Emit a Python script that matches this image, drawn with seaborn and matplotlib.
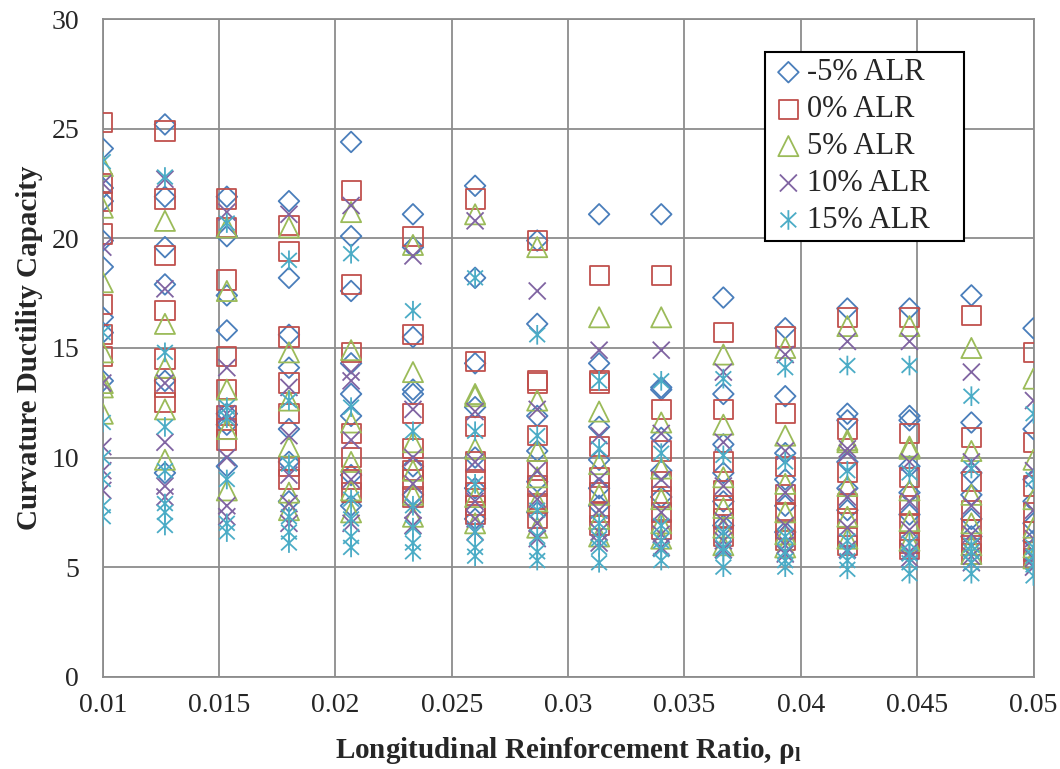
import matplotlib
matplotlib.use("Agg")
import matplotlib.pyplot as plt
import seaborn as sns
import pandas as pd
import numpy as np
from matplotlib.path import Path

# Longitudinal reinforcement ratio columns
rho = [0.01, 0.01267, 0.01533, 0.018, 0.02067, 0.02333, 0.026, 0.02867,
       0.03133, 0.034, 0.03667, 0.03933, 0.042, 0.04467, 0.04733, 0.05]

# Curvature ductility per column, one list per ALR level
alr_m5 = [
    [24.1, 22.3, 21.7, 19.9, 18.7, 16.4, 15.7, 13.5],
    [25.2, 21.9, 19.6, 17.9, 13.5, 9.3],
    [21.9, 20.1, 17.4, 15.8, 12.0, 11.5, 9.6],
    [21.7, 18.2, 15.6, 14.1, 11.3, 9.8, 8.0],
    [24.4, 20.1, 17.6, 14.3, 12.9, 11.9, 9.2, 7.8],
    [21.1, 19.6, 15.5, 13.1, 12.9, 9.6, 8.3],
    [22.4, 18.2, 14.3, 12.3, 10.0, 8.6, 7.2],
    [19.9, 16.1, 11.9, 10.3, 8.9, 7.5],
    [21.1, 14.3, 11.4, 9.9, 8.6, 7.8],
    [21.1, 13.2, 13.1, 10.9, 9.4, 8.2],
    [17.3, 12.9, 10.6, 9.3, 8.0, 6.9],
    [15.9, 12.8, 10.2, 9.0, 7.8, 6.6],
    [16.8, 12.0, 11.7, 9.8, 8.6, 7.6],
    [16.8, 11.9, 11.7, 9.6, 8.4, 7.4],
    [17.4, 11.6, 9.3, 8.3, 7.2, 6.4],
    [15.9, 11.3, 9.0, 8.0, 7.0, 6.2],
]
alr_0 = [
    [25.3, 22.5, 21.7, 20.2, 17.0, 15.6, 14.6],
    [24.9, 21.8, 19.2, 16.7, 14.5, 13.2, 12.5],
    [21.8, 20.5, 18.1, 14.6, 13.1, 11.9, 11.3, 10.8],
    [20.6, 19.4, 15.5, 13.4, 12.0, 9.6, 9.0],
    [22.2, 17.9, 14.8, 11.1, 10.0, 9.0, 8.4],
    [20.1, 15.6, 12.0, 10.4, 9.4, 9.0, 8.2],
    [21.8, 14.4, 11.4, 9.8, 9.0, 8.4, 7.8, 7.4],
    [19.9, 13.5, 13.4, 11.0, 9.4, 8.7, 7.9, 7.2],
    [18.3, 13.5, 13.4, 10.5, 9.1, 8.4, 7.5, 6.9],
    [18.3, 12.2, 10.3, 8.9, 8.2, 7.5, 6.7],
    [15.7, 12.2, 9.8, 8.5, 7.8, 7.2, 6.4],
    [15.5, 12.0, 9.6, 8.3, 7.5, 6.7, 6.2],
    [16.4, 11.3, 9.3, 7.9, 7.2, 6.4, 6.0],
    [16.4, 11.1, 9.1, 7.8, 7.0, 6.1, 5.8],
    [16.5, 10.9, 8.9, 7.6, 6.7, 6.0, 5.6],
    [14.8, 10.7, 8.7, 7.5, 6.6, 5.7, 5.4],
]
alr_5 = [
    [23.3, 21.4, 18.0, 14.8, 13.4, 13.2, 12.0],
    [20.8, 16.1, 14.1, 12.2, 9.9],
    [20.5, 17.6, 13.1, 11.3, 8.5],
    [20.5, 14.8, 12.6, 10.5, 8.4, 7.6],
    [21.2, 14.9, 11.6, 9.8, 8.5, 7.5],
    [19.7, 13.9, 10.7, 9.4, 8.3, 7.3],
    [21.1, 12.9, 12.8, 10.4, 8.2, 7.0],
    [19.6, 12.6, 10.3, 9.1, 8.0, 6.8],
    [16.4, 12.1, 9.7, 8.3, 7.2, 6.4],
    [16.4, 11.6, 9.5, 8.1, 7.0, 6.3],
    [14.7, 11.5, 9.1, 7.7, 6.8, 6.0],
    [15.0, 11.0, 8.8, 7.5, 6.5, 5.9],
    [16.0, 10.8, 10.7, 8.7, 7.3, 6.3],
    [16.0, 10.5, 10.4, 8.5, 7.1, 6.2],
    [15.0, 10.3, 8.3, 7.0, 6.0, 5.6],
    [13.6, 9.9, 8.1, 6.8, 5.9, 5.4],
]
alr_10 = [
    [22.5, 19.6, 13.4, 10.5, 9.4, 8.5],
    [22.7, 17.7, 13.4, 10.7, 8.7, 8.2],
    [21.2, 14.1, 12.0, 10.0, 7.8, 7.3],
    [21.1, 13.2, 11.0, 9.2, 7.9, 7.0],
    [21.5, 13.9, 13.5, 10.8, 9.0, 7.0],
    [19.2, 12.2, 10.0, 8.8, 7.6, 6.9],
    [20.8, 12.1, 9.8, 8.0, 7.2, 6.6],
    [17.6, 12.2, 9.4, 8.1, 7.0, 6.3],
    [14.9, 11.0, 9.0, 7.6, 6.6, 6.1],
    [14.9, 11.1, 9.0, 7.5, 6.5, 5.9],
    [13.9, 10.7, 8.7, 7.1, 6.2, 5.8],
    [14.7, 10.3, 8.4, 6.9, 6.0, 5.6],
    [15.3, 10.4, 10.2, 8.2, 6.8, 5.8],
    [15.3, 9.8, 8.0, 6.7, 5.7, 5.4],
    [13.9, 9.8, 7.8, 6.5, 5.5, 5.2],
    [12.6, 9.4, 7.6, 6.3, 5.4, 5.0],
]
alr_15 = [
    [23.5, 15.7, 11.6, 10.0, 9.0, 7.8, 7.3],
    [22.8, 14.8, 11.4, 9.4, 7.9, 7.5, 6.9],
    [20.7, 12.3, 11.8, 9.0, 7.0, 6.6],
    [19.0, 12.6, 9.7, 7.3, 6.6, 6.1],
    [19.3, 12.3, 8.1, 7.2, 6.4, 5.9],
    [16.7, 11.2, 7.8, 6.8, 6.1, 5.7],
    [18.2, 11.2, 8.8, 6.6, 5.9, 5.5],
    [15.6, 11.0, 7.6, 6.4, 5.7, 5.3],
    [13.5, 10.4, 7.0, 6.3, 5.9, 5.2],
    [13.5, 10.2, 6.9, 6.2, 5.8, 5.3],
    [13.6, 10.1, 6.6, 5.9, 5.7, 5.0],
    [14.1, 9.8, 6.4, 5.7, 5.3, 5.0],
    [14.2, 9.4, 6.2, 5.7, 5.3, 4.9],
    [14.2, 9.3, 6.1, 5.6, 5.2, 4.7],
    [12.8, 9.5, 6.0, 5.7, 5.2, 4.7],
    [12.0, 9.0, 5.9, 5.5, 5.1, 4.6],
]

series_names = ["-5% ALR", "0% ALR", "5% ALR", "10% ALR", "15% ALR"]
series_data = [alr_m5, alr_0, alr_5, alr_10, alr_15]
x_ticks = [0.01, 0.015, 0.02, 0.025, 0.03, 0.035, 0.04, 0.045, 0.05]
x_tick_labels = ["0.01", "0.015", "0.02", "0.025", "0.03", "0.035", "0.04", "0.045", "0.05"]
y_ticks = [0, 5, 10, 15, 20, 25, 30]

rows = []
for name, cols in zip(series_names, series_data):
    for x, vals in zip(rho, cols):
        for v in vals:
            rows.append({"rho": x, "mu": v, "ALR": name})
df = pd.DataFrame(rows)

# asterisk marker: vertical bar plus an X
ast = Path([(0, -1), (0, 1), (-0.8, -0.75), (0.8, 0.75), (-0.8, 0.75), (0.8, -0.75)],
           [Path.MOVETO, Path.LINETO, Path.MOVETO, Path.LINETO, Path.MOVETO, Path.LINETO])
cross = Path([(-1, -1), (1, 1), (-1, 1), (1, -1)],
             [Path.MOVETO, Path.LINETO, Path.MOVETO, Path.LINETO])

styles = {
    "-5% ALR": ("D", "#4A7EBB", 110),
    "0% ALR": ("s", "#C0504D", 190),
    "5% ALR": ("^", "#9BBB59", 210),
    "10% ALR": (cross, "#8064A2", 150),
    "15% ALR": (ast, "#4BACC6", 200),
}

sns.set_style("white")
plt.rcParams["font.family"] = ["Liberation Serif", "DejaVu Serif"]
plt.rcParams["mathtext.fontset"] = "stix"

fig = plt.figure(figsize=(10.6, 7.69), dpi=100)
ax = fig.add_axes([0.097, 0.12, 0.878, 0.855])

for name in series_names:
    marker, col, size = styles[name]
    sub = df[df["ALR"] == name]
    sns.scatterplot(data=sub, x="rho", y="mu", marker=marker, color=col,
                    facecolor="none", edgecolor=col, s=size, linewidth=1.3,
                    label=name, ax=ax, zorder=3)

ax.set_xlim(0.01, 0.05)
ax.set_ylim(0, 30)
ax.set_xticks(x_ticks)
ax.set_xticklabels(x_tick_labels)
ax.set_yticks(y_ticks)
ax.tick_params(labelsize=20, color="#8c8c8c", width=1.3)
ax.tick_params(axis="y", length=7, pad=10)
ax.tick_params(axis="x", length=5, pad=7)
ax.grid(True, color="#8c8c8c", linewidth=1.3, zorder=0)
ax.set_axisbelow(True)
for sp in ax.spines.values():
    sp.set_color("#8c8c8c")
    sp.set_linewidth(1.3)

ax.set_xlabel(r"Longitudinal Reinforcement Ratio, ρ$_\mathbf{l}$", fontsize=21,
              fontweight="bold")
ax.set_ylabel("Curvature Ductility Capacity", fontsize=21, fontweight="bold")
ax.xaxis.set_label_coords(0.5, -0.088)
ax.yaxis.set_label_coords(-0.064, 0.5)

leg = ax.legend(loc="upper left", bbox_to_anchor=(0.712, 0.66, 0.213, 0.29), mode="expand",
                borderaxespad=0, fontsize=22, fancybox=False, framealpha=1, edgecolor="black",
                handletextpad=0.05, labelspacing=0.26, borderpad=0.2, handlelength=1.1)
leg.get_frame().set_linewidth(1.5)

fig.savefig("out.png", dpi=100)
